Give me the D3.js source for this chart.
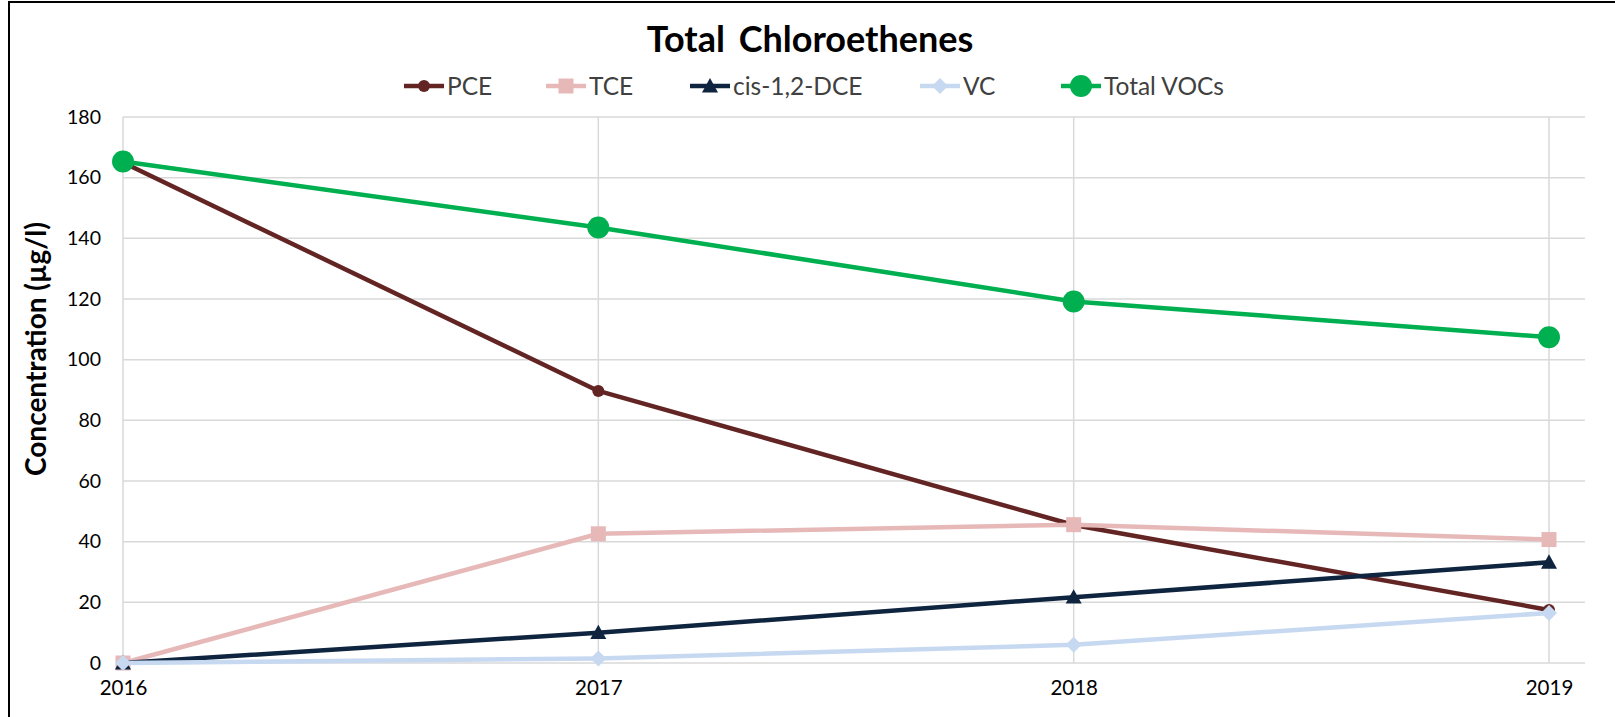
<!DOCTYPE html>
<html>
<head>
<meta charset="utf-8">
<script src="https://cdn.jsdelivr.net/npm/d3@7"></script>
<style>
  body { margin: 0; background: #fff; }
  svg { display: block; font-family: Lato, "Open Sans", sans-serif; }
</style>
</head>
<body>
<div id="chart"></div>
<script>
// data
var years = [2016, 2017, 2018, 2019];
var pce = [165, 89.7, 45.5, 17.5];
var tce = [0, 42.6, 45.6, 40.7];
var dce = [0, 10, 21.7, 33.2];
var vc = [0, 1.5, 6, 16.5];
var totalVocs = [165.3, 143.6, 119.2, 107.4];
var yTicks = [0, 20, 40, 60, 80, 100, 120, 140, 160, 180];

var series = [
	{name: "PCE", values: pce, color: "#632523", marker: "circle", size: 6},
	{name: "TCE", values: tce, color: "#e6b9b8", marker: "square", size: 7.5},
	{name: "cis-1,2-DCE", values: dce, color: "#0f243e", marker: "triangle", size: 8},
	{name: "VC", values: vc, color: "#c6d9f1", marker: "diamond", size: 8},
	{name: "Total VOCs", values: totalVocs, color: "#00b050", marker: "circle", size: 11}
];

var width = 1615, height = 717;
var plot = {left: 123, right: 1585, top: 117, bottom: 663};

var svg = d3.select("#chart").append("svg")
	.attr("width", width)
	.attr("height", height);

// outer frame (cropped on right and bottom)
svg.append("path")
	.attr("d", "M9,725 L9,2 L1625,2")
	.attr("fill", "none")
	.attr("stroke", "#000")
	.attr("stroke-width", 2);

var x = d3.scaleLinear()
	.domain([2016, 2019])
	.range([plot.left, 1549]);

var y = d3.scaleLinear()
	.domain([0, 180])
	.range([plot.bottom, plot.top]);

// horizontal gridlines
svg.append("g")
	.selectAll("line")
	.data(yTicks)
	.enter().append("line")
	.attr("x1", plot.left)
	.attr("x2", plot.right)
	.attr("y1", function (d) { return y(d); })
	.attr("y2", function (d) { return y(d); })
	.attr("stroke", "#d9d9d9")
	.attr("stroke-width", 1.5);

// vertical gridlines
svg.append("g")
	.selectAll("line")
	.data(years)
	.enter().append("line")
	.attr("x1", function (d) { return x(d); })
	.attr("x2", function (d) { return x(d); })
	.attr("y1", plot.top)
	.attr("y2", plot.bottom)
	.attr("stroke", "#d9d9d9")
	.attr("stroke-width", 1.5);

// y axis labels
var yAxis = svg.append("g")
	.attr("transform", "translate(" + (plot.left - 22) + ",0)")
	.call(d3.axisLeft(y).tickValues(yTicks).tickSize(0).tickPadding(0));
yAxis.select(".domain").remove();
yAxis.selectAll("text")
	.attr("font-size", 19.5)
	.attr("font-family", "Lato, sans-serif")
	.attr("fill", "#000");

// x axis labels
var xAxis = svg.append("g")
	.attr("transform", "translate(0," + (plot.bottom + 17) + ")")
	.call(d3.axisBottom(x).tickValues(years).tickFormat(d3.format("d")).tickSize(0).tickPadding(0));
xAxis.select(".domain").remove();
xAxis.selectAll("text")
	.attr("font-size", 20.5)
	.attr("font-family", "Lato, sans-serif")
	.attr("fill", "#000");

// axis title
svg.append("text")
	.attr("transform", "translate(46,349) rotate(-90)")
	.attr("text-anchor", "middle")
	.attr("font-size", 28)
	.attr("font-weight", "bold")
	.text("Concentration (µg/l)");

// chart title
svg.append("text")
	.attr("x", 810)
	.attr("y", 52)
	.attr("text-anchor", "middle")
	.attr("font-size", 36)
	.attr("font-weight", "bold")
	.attr("word-spacing", 5)
	.text("Total Chloroethenes");

function markerPath(type, s) {
	if (type == "circle") return d3.symbol().type(d3.symbolCircle).size(Math.PI * s * s)();
	if (type == "square") return "M" + (-s) + "," + (-s) + "h" + (2 * s) + "v" + (2 * s) + "h" + (-2 * s) + "Z";
	if (type == "triangle") return "M0," + (-s) + "L" + s + "," + (s * 0.8) + "L" + (-s) + "," + (s * 0.8) + "Z";
	if (type == "diamond") return "M0," + (-s) + "L" + s + ",0L0," + s + "L" + (-s) + ",0Z";
}

var line = d3.line()
	.x(function (d, i) { return x(years[i]); })
	.y(function (d) { return y(d); });

series.forEach(function (s) {
	var g = svg.append("g");
	g.append("path")
		.attr("d", line(s.values))
		.attr("fill", "none")
		.attr("stroke", s.color)
		.attr("stroke-width", 4.5)
		.attr("stroke-linejoin", "round");
	g.selectAll("path.mk")
		.data(s.values)
		.enter().append("path")
		.attr("class", "mk")
		.attr("transform", function (d, i) { return "translate(" + x(years[i]) + "," + y(d) + ")"; })
		.attr("d", markerPath(s.marker, s.size))
		.attr("fill", s.color);
});

// legend
var legendX = [404, 546, 690, 920, 1061];
var legend = svg.append("g").attr("transform", "translate(0,86)");
series.forEach(function (s, i) {
	var lg = legend.append("g").attr("transform", "translate(" + legendX[i] + ",0)");
	lg.append("line")
		.attr("x1", 0).attr("x2", 40)
		.attr("stroke", s.color)
		.attr("stroke-width", 4.5);
	lg.append("path")
		.attr("transform", "translate(20,0)")
		.attr("d", markerPath(s.marker, s.size))
		.attr("fill", s.color);
	lg.append("text")
		.attr("x", 43)
		.attr("dy", "0.35em")
		.attr("font-size", 24.5)
		.attr("fill", "#404040")
		.text(s.name);
});
</script>
</body>
</html>
